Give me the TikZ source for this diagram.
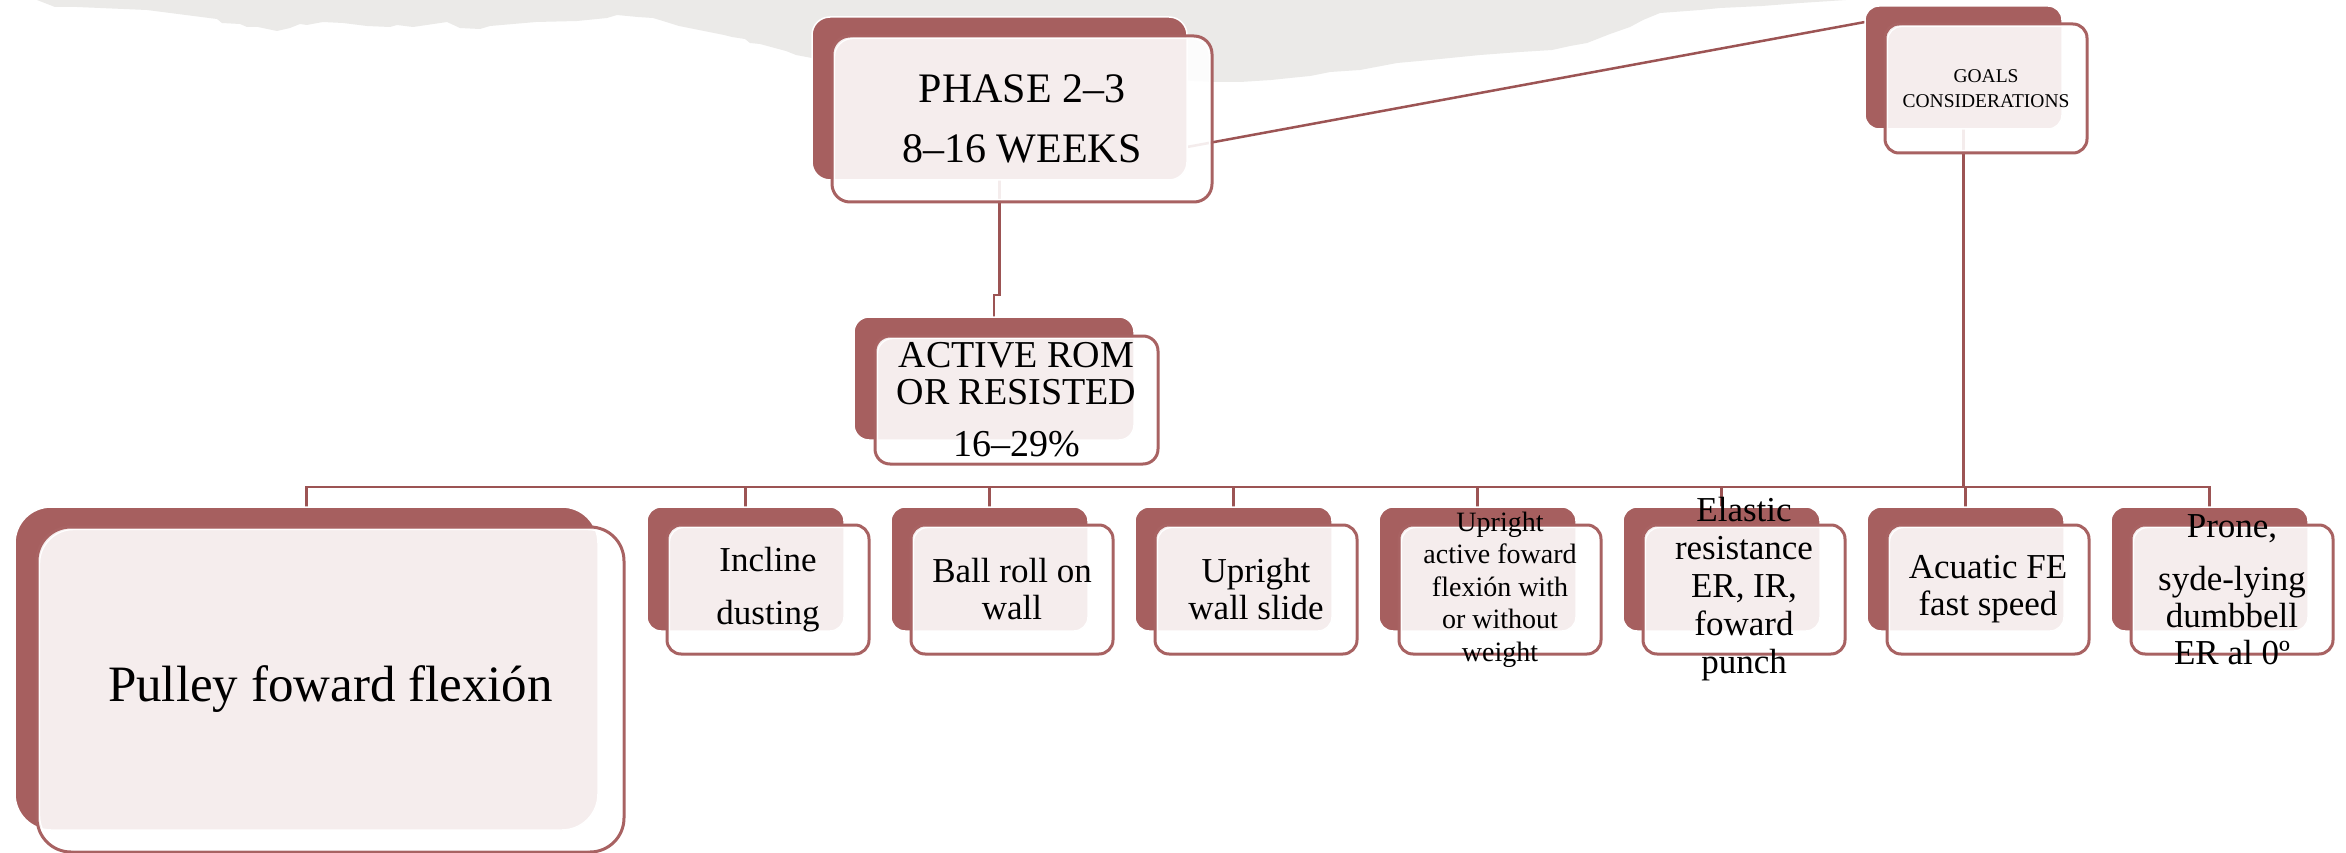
\documentclass[tikz,border=0pt]{standalone}
\usepackage{fontspec}
\setmainfont{Liberation Serif}
\usetikzlibrary{calc,backgrounds}
\definecolor{backred}{RGB}{166,95,95}
\definecolor{edgered}{RGB}{168,98,98}
\definecolor{wirered}{RGB}{156,84,84}
\definecolor{paper}{RGB}{235,234,232}
\tikzset{
  backbox/.style={fill=backred, draw=white, line width=1.5pt, rounded corners=#1,
    inner sep=0pt, outer sep=0pt},
  frontbox/.style={fill=white, fill opacity=0.89, draw=edgered, draw opacity=1,
    line width=3pt, rounded corners=#1, inner sep=0pt, outer sep=0pt},
  insetline/.style={draw=white, line width=1.2pt, rounded corners=#1},
  wire/.style={draw=wirered, line width=2.5pt},
  boxtext/.style={align=center, text=black, inner sep=0pt},
  kidback/.style={backbox=14pt, minimum width=197pt, minimum height=124pt},
  kidfront/.style={frontbox=14pt, minimum width=202pt, minimum height=129pt},
  kidfont/.style={font=\fontsize{35}{37}\selectfont},
}
\begin{document}
\begin{tikzpicture}[x=1pt,y=-1pt]
\useasboundingbox (0,0) rectangle (2346,853);

% ---- boxes: shadow block first, then the translucent card on top
\node[backbox=18pt, minimum width=375pt, minimum height=163pt] (phaseB) at (999.5,98.5) {};
\node[frontbox=18pt, minimum width=380pt, minimum height=166pt] (phase) at (1022,119) {};

\node[backbox=14pt, minimum width=197pt, minimum height=123pt] (goalsB) at (1963.5,67.5) {};
\node[frontbox=14pt, minimum width=202pt, minimum height=129pt] (goals) at (1986,88.5) {};

\node[backbox=15pt, minimum width=280pt, minimum height=123pt] (activeB) at (994,378.5) {};
\node[frontbox=15pt, minimum width=283pt, minimum height=128pt] (active) at (1016.5,400) {};

\node[backbox=36pt, minimum width=583pt, minimum height=323pt] (pulleyB) at (306.5,668.5) {};
\node[frontbox=34pt, minimum width=587pt, minimum height=325pt] (pulley) at (330.5,689.5) {};

\foreach \k in {1,...,7}{
  \node[kidback] (kid\k B) at ({745.5+244*(\k-1)},569) {};
  \node[kidfront] (kid\k) at ({768+244*(\k-1)},589.5) {};
}

% thin white rim just inside each card
\foreach \n/\r in {phase/18pt, goals/14pt, active/15pt, pulley/34pt,
                   kid1/14pt, kid2/14pt, kid3/14pt, kid4/14pt, kid5/14pt, kid6/14pt, kid7/14pt}{
  \draw[insetline=\r] ([shift={(2.6pt,-2.6pt)}]\n.north west) rectangle ([shift={(-2.6pt,2.6pt)}]\n.south east);
}

% ---- texts
\node[boxtext, font=\fontsize{42}{60}\selectfont] (phaseT) at (phase.center) {PHASE 2--3\\8--16 WEEKS};
\node[boxtext, font=\fontsize{19.5}{25}\selectfont] (goalsT) at (goals.center) {GOALS\\CONSIDERATIONS};
\node[boxtext, font=\fontsize{38}{37}\selectfont] (activeT) at (active.center) {ACTIVE ROM\\OR RESISTED\\[15pt]16--29\%};
\node[boxtext, font=\fontsize{51}{60}\selectfont] (pulleyT) at (pulley.center) {Pulley foward flexión};

\node[boxtext, kidfont] (kid1T) at (kid1.center) {Incline\\[16pt]dusting};
\node[boxtext, kidfont] (kid2T) at (kid2.center) {Ball roll on\\wall};
\node[boxtext, kidfont] (kid3T) at (kid3.center) {Upright\\wall slide};
\node[boxtext, font=\fontsize{28}{32.5}\selectfont] (kid4T) at (kid4.center) {Upright\\active foward\\flexión with\\or without\\weight};
\node[boxtext, font=\fontsize{35}{38}\selectfont] (kid5T) at (kid5.center) {Elastic\\resistance\\ER, IR,\\foward\\punch};
\node[boxtext, kidfont] (kid6T) at (kid6.center) {Acuatic FE\\fast speed};
\node[boxtext, kidfont] (kid7T) at (kid7.center) {Prone,\\[16pt]syde-lying\\dumbbell\\ER al 0º};

% ---- background: page, torn paper strip, connectors
\begin{scope}[on background layer]
  \fill[white] (0,0) rectangle (2346,853);
  \fill[paper] (37,0) -- (55,7) -- (77,7) -- (147,10) -- (217,19) -- (222,23) -- (240,24)
    -- (247,27) -- (258,27) -- (277,31) -- (290,28) -- (300,24) -- (307,25) -- (312,24)
    -- (323,22) -- (343,23) -- (367,26) -- (390,27) -- (397,25) -- (413,27) -- (447,22)
    -- (460,28) -- (480,29) -- (490,26) -- (536,22) -- (577,21) -- (607,18) -- (617,15)
    -- (638,17) -- (653,18) -- (663,21) -- (679,26) -- (724,35) -- (732,37) -- (745,39)
    -- (750,43) -- (760,44) -- (786,51) -- (796,55) -- (812,58) -- (1000,70) -- (1212,82)
    -- (1240,82) -- (1271,80) -- (1290,78) -- (1310,76) -- (1330,72) -- (1360,70)
    -- (1397,63) -- (1430,60) -- (1480,55) -- (1520,52) -- (1552,50) -- (1570,46)
    -- (1587,43) -- (1610,34) -- (1630,27) -- (1643,20) -- (1660,13) -- (1700,10)
    -- (1720,8) -- (1762,6) -- (1800,3) -- (1846,0) -- cycle;

  \draw[wire] ([yshift=-48.5pt]phaseB.east) -- ([yshift=45.5pt]goalsB.west);
  \draw[wire] (phaseB.south) -- ++(0,115) -| (activeB.north);

  \coordinate (bus) at (goalsB.south |- 0,487);
  \draw[wire] (goalsB.south) -- (bus);
  \foreach \t in {pulleyB,kid1B,kid2B,kid3B,kid4B,kid5B,kid6B,kid7B}{
    \draw[wire] (bus) -| (\t.north);
  }
\end{scope}
\end{tikzpicture}
\end{document}
